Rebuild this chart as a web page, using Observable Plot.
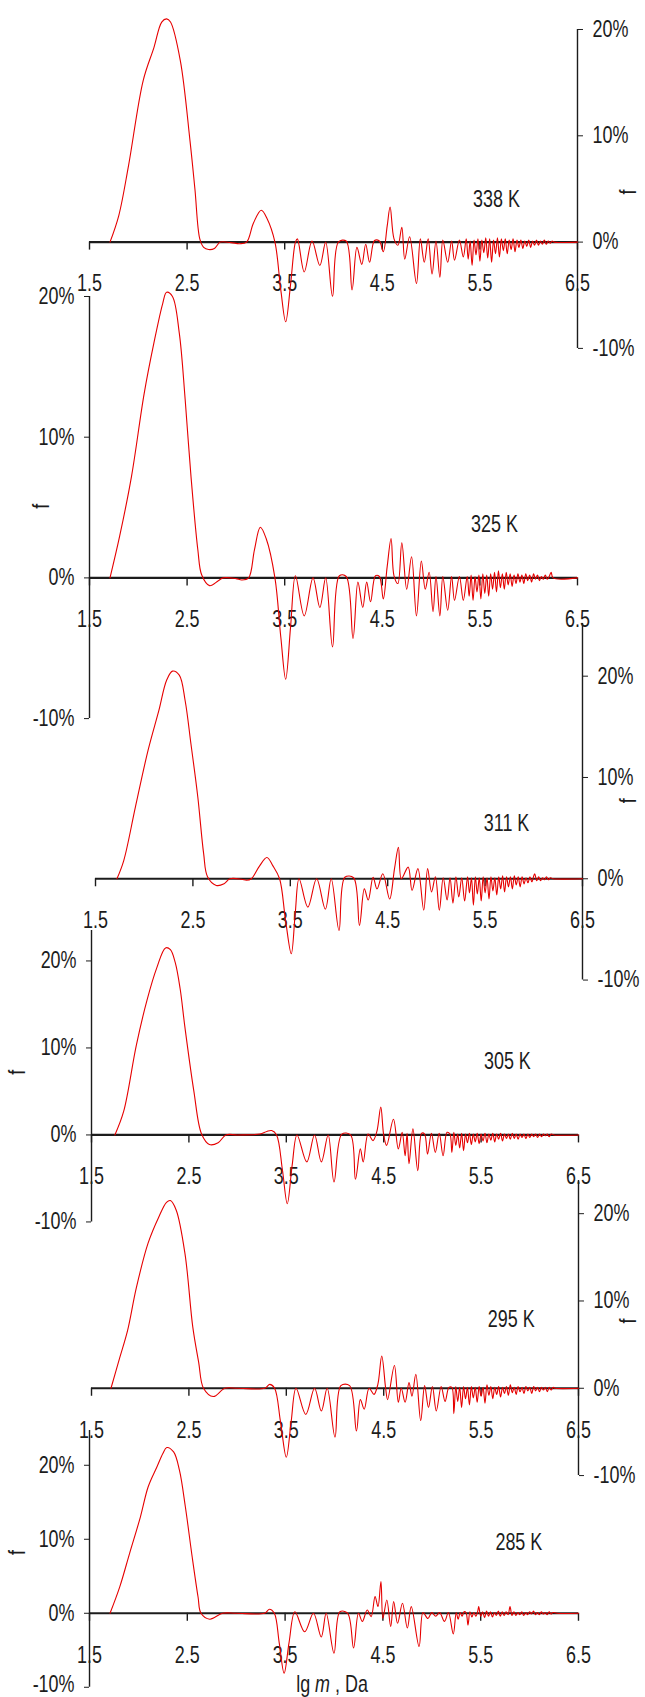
<!DOCTYPE html>
<html><head><meta charset="utf-8">
<script src="https://cdn.jsdelivr.net/npm/d3@7"></script>
<script src="https://cdn.jsdelivr.net/npm/@observablehq/plot@0.6"></script>
<style>
html,body{margin:0;padding:0;background:#fff;overflow:hidden}
#chart{position:relative;width:645px;height:1697px;overflow:hidden;background:#fff}
#chart svg{position:absolute;left:0}
</style></head><body><div id="chart"></div>
<script>
// ---------- data ----------
const xTicks = [1.5, 2.5, 3.5, 4.5, 5.5, 6.5];
const yTicks = [-10, 0, 10, 20];
const xLabel = "lg m , Da";
const yLabel = "f";
const temps = ["338 K", "325 K", "311 K", "305 K", "295 K", "285 K"];

// [lg m, f %]
const s338 = [[1.71,0],[1.80,2.5],[1.90,7.2],[2.05,15.2],[2.16,18.3],[2.24,20.7],[2.29,21.0],[2.33,20.7],[2.43,17.1],[2.53,9.5],[2.58,5.0],[2.63,0.3],[2.67,-0.5],[2.72,-0.7],[2.78,-0.6],[2.84,0],[2.95,-0.05],[3.04,-0.15],[3.11,0],[3.18,1.8],[3.26,3.0],[3.32,2.2],[3.40,0],[3.46,-4.5],[3.51,-7.5],[3.56,-4.0],[3.61,0],[3.63,0.3],[3.70,-2.8],[3.78,0.1],[3.86,-2.2],[3.92,0],[3.99,-5.1],[4.05,0],[4.13,0.1],[4.19,-4.5],[4.24,-0.5],[4.29,-2.1],[4.33,-0.2],[4.37,-1.9],[4.42,0.15],[4.47,0.1],[4.51,-0.9],[4.55,1.5],[4.58,3.3],[4.62,0.3],[4.66,-0.3],[4.70,1.4],[4.73,-1.6],[4.78,0.5],[4.85,-3.9],[4.89,0.3],[4.93,-1.9],[4.97,0.3],[5.01,-3.0],[5.05,0.1],[5.09,-3.3],[5.12,0.2],[5.17,-1.9],[5.21,0.1],[5.24,-1.7],[5.29,0.2],[5.33,-1.4],[5.36,0.3],[5.38,-1.6],[5.40,0.1],[5.42,-2.2],[5.44,0.2],[5.46,-1.2],[5.48,0.3],[5.50,-1.8],[5.52,0.2],[5.54,-1.0],[5.56,0.4],[5.58,-1.5],[5.60,0.3],[5.62,-1.9],[5.64,0.2],[5.66,-1.1],[5.68,0.4],[5.70,-1.4],[5.72,0.3],[5.74,-0.8],[5.76,0.3],[5.78,-1.1],[5.80,0.2],[5.82,-0.7],[5.84,0.3],[5.86,-0.9],[5.88,0.2],[5.90,-0.5],[5.92,0.2],[5.94,-0.6],[5.96,0.1],[5.98,-0.4],[6.00,0.2],[6.02,-0.5],[6.04,0.1],[6.06,-0.3],[6.08,0.2],[6.10,-0.3],[6.12,0.1],[6.14,-0.2],[6.16,0.2],[6.18,-0.2],[6.20,0.1],[6.22,-0.1],[6.24,0.1],[6.26,0],[6.50,0]];

const s325 = [[1.71,0],[1.81,3.0],[1.93,7.2],[2.06,13.1],[2.16,16.7],[2.25,19.5],[2.29,20.3],[2.35,20.0],[2.42,17.4],[2.48,12.7],[2.54,7.2],[2.61,2.0],[2.65,0.2],[2.73,-0.55],[2.82,-0.2],[2.87,0],[3.00,-0.05],[3.06,-0.15],[3.13,0],[3.19,2.0],[3.25,3.6],[3.31,2.8],[3.40,0],[3.46,-4.2],[3.51,-7.2],[3.56,-3.5],[3.61,0.15],[3.70,-2.7],[3.79,0],[3.86,-2.1],[3.92,0],[3.99,-4.9],[4.06,0.15],[4.13,0.1],[4.20,-4.3],[4.25,-0.3],[4.30,-2.1],[4.34,-0.3],[4.38,-1.7],[4.43,0.15],[4.47,0.1],[4.51,-1.5],[4.55,0.8],[4.59,2.8],[4.62,0.15],[4.66,-0.4],[4.70,2.5],[4.75,-0.8],[4.80,1.5],[4.85,-2.7],[4.90,1.2],[4.94,-0.8],[4.98,0.4],[5.02,-2.4],[5.05,0.1],[5.09,-2.7],[5.12,0.1],[5.17,-2.3],[5.21,0.1],[5.24,-1.6],[5.29,0.1],[5.33,-1.6],[5.37,0.1],[5.39,-1.3],[5.41,0.2],[5.43,-1.6],[5.45,0.1],[5.47,-1.0],[5.49,0.2],[5.51,-1.5],[5.53,0.3],[5.55,-1.1],[5.57,0.2],[5.59,-1.3],[5.61,0.3],[5.63,-0.8],[5.65,0.4],[5.67,-1.0],[5.69,0.5],[5.71,-0.7],[5.73,0.3],[5.75,-0.8],[5.77,0.4],[5.79,-0.5],[5.81,0.3],[5.83,-0.6],[5.85,0.2],[5.87,-0.4],[5.89,0.3],[5.91,-0.3],[5.93,0.2],[5.95,-0.4],[5.97,0.3],[5.99,-0.2],[6.01,0.2],[6.03,-0.3],[6.05,0.3],[6.07,-0.1],[6.09,0.2],[6.11,-0.2],[6.13,0.1],[6.15,-0.1],[6.17,0.2],[6.19,-0.1],[6.21,0.1],[6.23,0.4],[6.25,0],[6.50,0]];

const s311 = [[1.72,0],[1.79,1.8],[1.91,7.1],[2.04,12.7],[2.15,16.6],[2.23,19.6],[2.29,20.5],[2.36,20.1],[2.42,17.6],[2.48,13.3],[2.55,8.1],[2.61,2.5],[2.65,0.2],[2.74,-0.66],[2.82,-0.5],[2.88,0],[3.00,-0.05],[3.05,-0.15],[3.10,0],[3.18,1.2],[3.26,2.1],[3.32,1.3],[3.39,0],[3.45,-4.0],[3.51,-7.4],[3.55,-3.5],[3.59,0],[3.68,-2.8],[3.77,0],[3.86,-3.0],[3.92,0],[4.00,-5.1],[4.06,0.15],[4.15,0.1],[4.21,-4.6],[4.26,-1.0],[4.30,-2.1],[4.35,0.15],[4.39,-1.0],[4.45,0.5],[4.52,-2.0],[4.57,1.0],[4.61,3.1],[4.64,0],[4.71,1.15],[4.75,-1.15],[4.81,1.0],[4.87,-3.1],[4.91,1.0],[4.95,-1.3],[4.99,0.2],[5.03,-3.1],[5.07,0.1],[5.11,-2.1],[5.14,0.1],[5.17,-2.4],[5.20,0.2],[5.23,-1.8],[5.26,0.1],[5.29,-2.2],[5.32,0.2],[5.34,-1.4],[5.36,0.1],[5.38,-2.6],[5.40,0.2],[5.42,-1.5],[5.44,0.1],[5.46,-2.2],[5.48,0.2],[5.50,-1.4],[5.52,0.1],[5.54,-2.0],[5.56,0.2],[5.58,-1.2],[5.60,0.1],[5.62,-1.6],[5.64,0.2],[5.66,-1.0],[5.68,0.3],[5.70,-1.3],[5.72,0.2],[5.74,-0.8],[5.76,0.2],[5.78,-1.0],[5.80,0.3],[5.82,-0.6],[5.84,0.2],[5.86,-0.8],[5.88,0.2],[5.90,-0.5],[5.92,0.1],[5.94,-0.4],[5.96,0.2],[5.98,-0.3],[6.00,0.3],[6.01,0.5],[6.03,-0.2],[6.05,0.2],[6.07,-0.2],[6.09,0.1],[6.11,-0.1],[6.13,0.2],[6.15,-0.1],[6.17,0.1],[6.20,0],[6.50,0]];

const s305 = [[1.74,0],[1.83,2.7],[1.96,10.3],[2.07,15.5],[2.17,19.2],[2.26,21.5],[2.31,21.3],[2.36,19.8],[2.41,16.8],[2.46,12.3],[2.55,5.1],[2.63,0.1],[2.71,-1.1],[2.80,-0.9],[2.88,0],[3.00,0],[3.23,0.1],[3.30,0.4],[3.35,0.5],[3.40,0],[3.46,-4.0],[3.51,-7.9],[3.56,-3.5],[3.61,0],[3.71,-3.1],[3.79,0],[3.86,-3.1],[3.93,0],[3.99,-5.4],[4.07,0.1],[4.16,0],[4.21,-5.1],[4.26,-1.6],[4.29,-3.1],[4.34,0.1],[4.39,-0.65],[4.43,0.4],[4.47,3.2],[4.50,0],[4.53,-1.2],[4.60,1.8],[4.65,-1.6],[4.69,0.3],[4.72,-2.4],[4.74,0.2],[4.76,-3.3],[4.80,0.7],[4.85,-4.1],[4.89,0.2],[4.92,0.1],[4.95,-2.2],[4.99,0.2],[5.03,-2.0],[5.07,0.2],[5.11,-2.4],[5.15,0.3],[5.18,0.1],[5.20,-2.0],[5.22,0.3],[5.24,-1.2],[5.26,0.1],[5.28,-1.5],[5.30,0.2],[5.32,-1.8],[5.34,0.1],[5.36,-0.9],[5.38,0.2],[5.40,-1.1],[5.42,0.1],[5.44,-0.8],[5.46,0.2],[5.48,-1.0],[5.50,0.1],[5.52,-0.7],[5.54,0.2],[5.56,-0.9],[5.58,0.1],[5.60,-0.6],[5.62,0.2],[5.64,-0.8],[5.66,0.1],[5.68,-0.5],[5.70,0.2],[5.72,-0.7],[5.74,0.1],[5.76,-0.4],[5.78,0.1],[5.80,-0.5],[5.82,0.2],[5.84,-0.4],[5.86,0.1],[5.88,-0.5],[5.90,0.1],[5.92,-0.3],[5.94,0.1],[5.96,-0.4],[5.98,0.1],[6.00,-0.3],[6.02,0.1],[6.04,-0.2],[6.06,0.1],[6.08,-0.3],[6.10,0.1],[6.12,-0.2],[6.14,0.1],[6.16,-0.1],[6.18,0.1],[6.20,-0.2],[6.22,0.1],[6.25,0],[6.50,0]];

const s295 = [[1.70,0],[1.79,3.5],[1.87,6.6],[1.96,11.5],[2.08,16.6],[2.19,19.6],[2.27,21.3],[2.31,21.5],[2.37,20.4],[2.46,15.4],[2.54,7.0],[2.60,3.0],[2.65,0],[2.75,-0.95],[2.87,0],[3.00,0],[3.28,0],[3.33,0.45],[3.38,0],[3.44,-3.8],[3.50,-7.9],[3.55,-3.8],[3.60,0],[3.70,-3.0],[3.79,0],[3.86,-2.6],[3.92,0],[4.00,-5.6],[4.06,0.3],[4.15,0.3],[4.22,-4.9],[4.26,-1.3],[4.30,-2.4],[4.35,0],[4.40,-0.7],[4.44,0.45],[4.48,3.7],[4.52,0],[4.54,-1.3],[4.61,2.6],[4.65,-1.6],[4.68,0],[4.72,-1.6],[4.76,0.65],[4.79,-0.9],[4.83,1.6],[4.88,-3.7],[4.92,0.3],[4.96,-2.2],[5.00,0.2],[5.04,-2.6],[5.09,0.2],[5.13,-1.5],[5.17,0.1],[5.20,0.1],[5.22,-2.9],[5.24,0.2],[5.26,-1.5],[5.28,0.1],[5.30,-2.2],[5.32,0.2],[5.34,-1.2],[5.36,0.1],[5.38,-1.9],[5.40,0.2],[5.42,-1.1],[5.44,0.1],[5.46,-1.6],[5.48,0.2],[5.50,-0.9],[5.52,0.1],[5.54,-1.7],[5.56,0.4],[5.58,-0.8],[5.60,0.2],[5.62,-1.2],[5.64,0.1],[5.66,-0.7],[5.68,0.2],[5.70,-1.0],[5.72,0.1],[5.74,-0.6],[5.76,0.2],[5.78,-0.8],[5.80,0.4],[5.82,-0.5],[5.84,0.1],[5.86,-0.7],[5.88,0.2],[5.90,-0.4],[5.92,0.1],[5.94,-0.6],[5.96,0.2],[5.98,-0.3],[6.00,0.1],[6.02,-0.6],[6.04,0.2],[6.06,-0.3],[6.08,0.1],[6.10,-0.4],[6.12,0.1],[6.14,-0.2],[6.16,0.1],[6.18,-0.4],[6.20,0.1],[6.22,-0.2],[6.24,0.1],[6.26,0],[6.50,0]];

const s285 = [[1.71,0],[1.81,3.6],[1.91,8.1],[2.02,13.0],[2.10,17.1],[2.19,19.8],[2.25,21.6],[2.29,22.4],[2.36,21.8],[2.42,19.3],[2.48,14.4],[2.55,7.6],[2.61,2.2],[2.64,0],[2.73,-0.8],[2.86,0],[3.00,0],[3.29,0],[3.34,0.55],[3.39,0],[3.44,-4.0],[3.49,-8.1],[3.54,-4.0],[3.60,0.2],[3.70,-2.5],[3.79,0],[3.87,-3.2],[3.92,0],[4.00,-5.4],[4.06,0.2],[4.14,0],[4.20,-4.7],[4.25,0],[4.29,-1.1],[4.34,0.45],[4.38,-0.45],[4.42,2.25],[4.45,0.9],[4.48,4.3],[4.50,-0.7],[4.54,1.8],[4.58,-1.8],[4.61,1.6],[4.65,-1.35],[4.70,1.35],[4.75,-2.0],[4.79,0.9],[4.87,-4.5],[4.91,0.1],[4.96,-0.7],[5.00,0.1],[5.04,-0.4],[5.08,0.1],[5.13,-1.1],[5.17,0.1],[5.22,-2.8],[5.25,0.1],[5.27,-0.8],[5.29,0.1],[5.31,-0.4],[5.33,0.2],[5.35,0.1],[5.37,-1.6],[5.39,0.2],[5.41,-0.5],[5.43,0.1],[5.45,-0.4],[5.47,0.3],[5.48,0.9],[5.50,-0.4],[5.52,0.2],[5.54,-0.6],[5.56,0.3],[5.58,-0.4],[5.60,0.2],[5.62,-0.5],[5.64,0.1],[5.66,-0.3],[5.68,0.3],[5.70,-0.4],[5.72,0.2],[5.74,-0.3],[5.76,0.2],[5.78,-0.2],[5.80,0.9],[5.82,-0.3],[5.84,0.2],[5.86,-0.3],[5.88,0.1],[5.90,-0.2],[5.92,0.2],[5.94,-0.3],[5.96,0.1],[5.98,-0.2],[6.00,0.2],[6.02,-0.1],[6.04,0.3],[6.06,-0.2],[6.08,0.1],[6.10,-0.2],[6.12,0.2],[6.14,-0.1],[6.16,0.1],[6.18,-0.2],[6.20,0.2],[6.22,-0.1],[6.24,0.1],[6.28,0],[6.50,0]];

const series = [s338, s325, s311, s305, s295, s285];

// ---------- layout (pixels) ----------
const layout = [
  {side:"right", y20:29,   pxPct:10.63, yMax:20,   xL:89, xR:577, lx:5.67, ly:4.0, fx:628, fy:4.7},
  {side:"left",  y20:296,  pxPct:14.07, yMax:20,   xL:89, xR:577, lx:5.65, ly:3.8, fx:41,  fy:5.1},
  {side:"right", y20:676,  pxPct:10.13, yMax:25.2, xL:95, xR:582, lx:5.72, ly:5.4, fx:628, fy:7.7},
  {side:"left",  y20:960,  pxPct:8.70,  yMax:23.5, xL:91, xR:578, lx:5.77, ly:8.4, fx:17,  fy:7.2},
  {side:"right", y20:1213, pxPct:8.73,  yMax:23.8, xL:91, xR:578, lx:5.81, ly:7.9, fx:628, fy:7.7},
  {side:"left",  y20:1465, pxPct:7.40,  yMax:24.7, xL:89, xR:578, lx:5.89, ly:9.5, fx:17,  fy:8.2}
];

const FONT = '"Liberation Sans", Arial, Helvetica, sans-serif';
const SQUEEZE = 0.78;
const INK = "#1c1c1c";
const RED = "#e60000";
const root = document.getElementById("chart");

layout.forEach((p, i) => {
  const mt = 30, mb = 60, W = 645;
  const last = i === layout.length - 1;
  const h = mt + (p.yMax + 10) * p.pxPct + mb;
  const tickLen = 8 / p.pxPct;
  const axisAt = p.side === "left" ? 1.5 : 6.5;
  const axisPx = p.side === "left" ? p.xL : p.xR;
  const marks = [
    Plot.ruleX([axisAt], {y1: -10, y2: p.yMax, stroke: INK, strokeWidth: 1.4}),
    Plot.ruleY([0], {x1: 1.5, x2: 6.5, stroke: INK, strokeWidth: 2.2}),
    Plot.ruleX(xTicks, {x: d => d, y1: 0, y2: -tickLen, stroke: INK, strokeWidth: 1.4}),
    Plot.text(xTicks, {x: d => d, y: 0, dy: 42, text: d => d.toFixed(1), fill: INK}),
    Plot.line(series[i], {x: d => d[0], y: d => d[1], stroke: RED, strokeWidth: 1.1, curve: "catmull-rom"}),
    Plot.text([temps[i]], {x: p.lx, y: p.ly, text: d => d, fill: INK}),
    Plot.text([yLabel], {x: axisAt, y: p.fy, dx: p.fx - axisPx, rotate: -90, text: d => d, fill: INK})
  ];
  if (last) {
    marks.push(Plot.text([xLabel], {x: 3.98, y: -10, dy: -3, text: d => d, fill: INK}));
  }
  const fig = Plot.plot({
    width: W, height: h,
    marginTop: mt, marginBottom: mb, marginLeft: p.xL, marginRight: W - p.xR,
    x: {domain: [1.5, 6.5], axis: null},
    y: {domain: [-10, p.yMax], ticks: yTicks, tickFormat: d => d + "%", axis: p.side,
        label: null, tickSize: 5, tickPadding: 10},
    style: {background: "none", overflow: "visible", fontFamily: FONT, fontSize: "23px", color: INK},
    marks
  });
  fig.style.top = (p.y20 - (p.yMax - 20) * p.pxPct - mt) + "px";
  root.appendChild(fig);
  const sel = d3.select(fig).selectAll("text");
  sel.filter(function () { return this.textContent === xLabel; })
    .each(function () {
      const t = d3.select(this);
      t.text(null);
      t.append("tspan").text("lg ");
      t.append("tspan").attr("font-style", "italic").text("m");
      t.append("tspan").text(" , Da");
    });
  // narrow, tall lettering as in the reference: squeeze each text horizontally about its anchor
  sel.each(function () {
    const tr = this.getAttribute("transform") || "";
    const xa = this.getAttribute("x"), ya = this.getAttribute("y");
    let move = "";
    if ((xa !== null && isFinite(+xa)) || (ya !== null && isFinite(+ya))) {
      const xv = xa !== null && isFinite(+xa) ? +xa : 0;
      const yv = ya !== null && isFinite(+ya) ? +ya : 0;
      if (xa !== null && isFinite(+xa)) this.removeAttribute("x");
      if (ya !== null && isFinite(+ya)) this.removeAttribute("y");
      move = ` translate(${xv},${yv})`;
    }
    // keep the lowest tick label of the bottom panel inside the page
    const lift = (last && this.textContent === "-10%") ? " translate(0,-3)" : "";
    this.setAttribute("transform", `${tr}${move}${lift} scale(${SQUEEZE},1)`.trim());
  });
});
</script>
</body></html>
